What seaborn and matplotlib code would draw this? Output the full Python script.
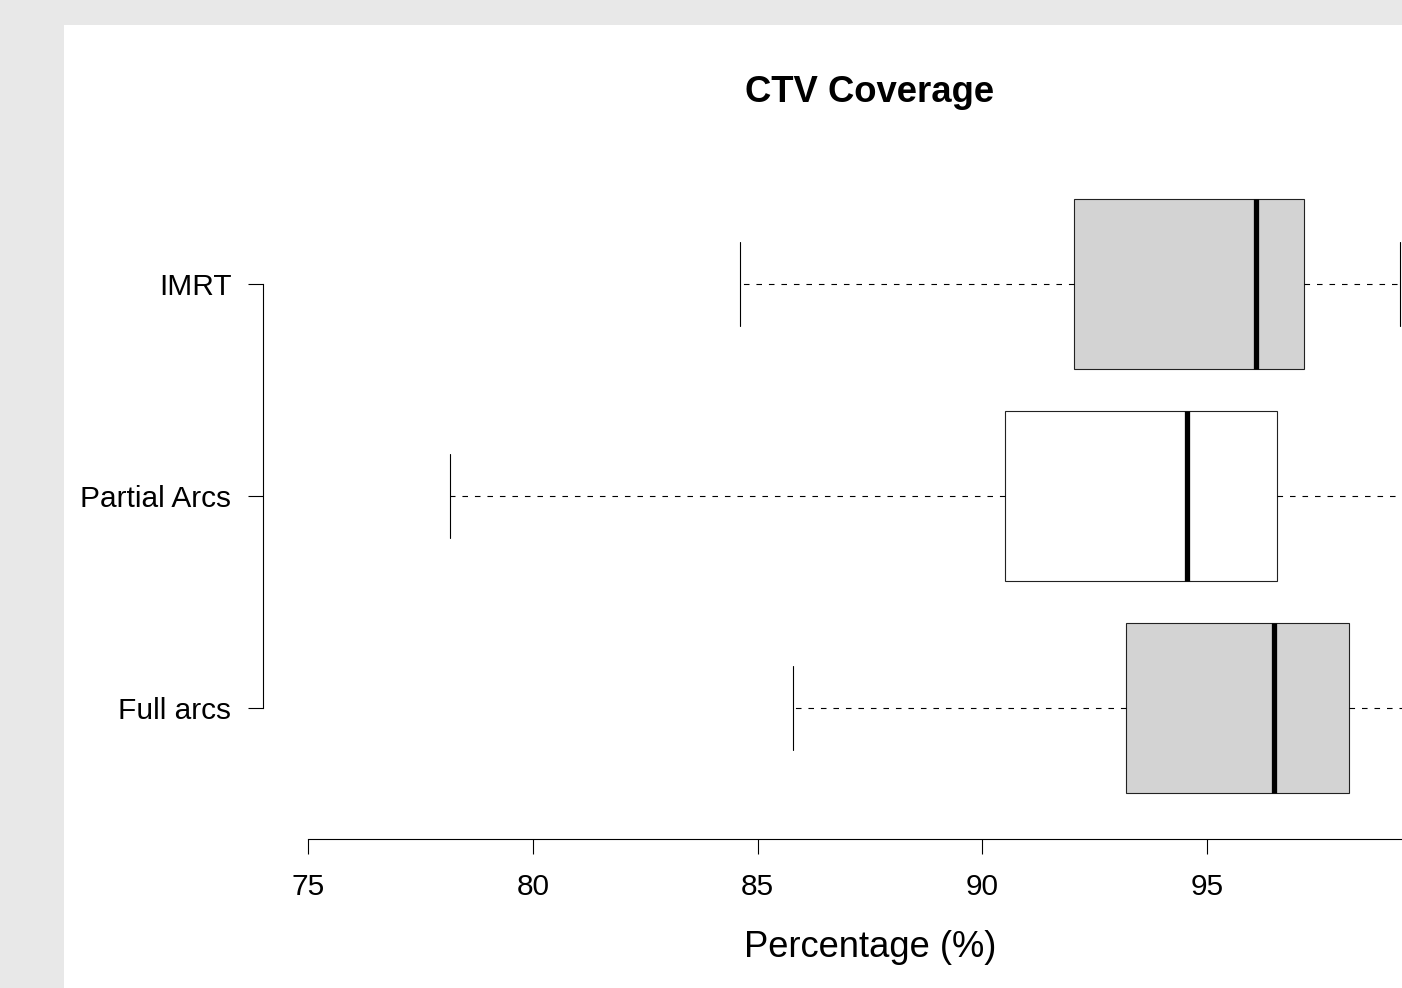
import numpy as np
import pandas as pd
import matplotlib
matplotlib.use("Agg")
import matplotlib.pyplot as plt
from matplotlib.patches import Rectangle
import seaborn as sns

# ---- data (five-number summaries) ----
groups = ["IMRT", "Partial Arcs", "Full arcs"]
mins = [84.6, 78.15, 85.8]
q1s = [92.05, 90.5, 93.2]
medians = [96.1, 94.55, 96.5]
q3s = [97.15, 96.55, 98.15]
maxs = [99.3, 99.8, 99.7]
fills = ["#d3d3d3", "#ffffff", "#d3d3d3"]
xticks = [75, 80, 85, 90, 95]
title = "CTV Coverage"
xlabel = "Percentage (%)"

rows = []
for g, a, b, c, d, e in zip(groups, mins, q1s, medians, q3s, maxs):
    for v in (a, b, c, d, e):
        rows.append({"group": g, "value": v})
df = pd.DataFrame(rows)

sns.set_theme(style="white")
plt.rcParams["font.family"] = ["Liberation Sans", "DejaVu Sans"]
plt.rcParams["lines.scale_dashes"] = False
plt.rcParams["text.color"] = "black"
plt.rcParams["xtick.color"] = "black"
plt.rcParams["ytick.color"] = "black"
plt.rcParams["xtick.labelcolor"] = "black"
plt.rcParams["ytick.labelcolor"] = "black"

W, H = 1402, 988
fig = plt.figure(figsize=(W / 100, H / 100), dpi=100)
fig.patch.set_facecolor("#e8e8e8")
fig.patches.append(Rectangle((64 / W, 0), 1 - 64 / W, (H - 25) / H,
                             transform=fig.transFigure, facecolor="white",
                             edgecolor="none", zorder=-5))

left = 263 / W
bottom = (H - 839) / H
top = (H - 178) / H
ax = fig.add_axes([left, bottom, 1 - left, top - bottom])
ax.set_facecolor("none")
ax.set_zorder(2)

lw = 0.8
sns.boxplot(data=df, x="value", y="group", hue="group", order=groups,
            hue_order=groups, palette=dict(zip(groups, fills)), legend=False,
            orient="h", whis=(0, 100), width=0.8, saturation=1, ax=ax,
            linecolor="black", linewidth=lw, dodge=False,
            whiskerprops={"linestyle": (0, (4.0, 5.0)), "linewidth": lw, "color": "black"},
            capprops={"linewidth": lw, "color": "black"},
            medianprops={"linewidth": 3.8, "color": "black"},
            boxprops={"linewidth": lw, "edgecolor": "#222222"})

ax.set_xlim(75 - 45 / 44.95, 75 + 1094 / 44.95)
ax.set_ylim(2 + 131 / 212, -0.5)
ax.set_xticks(xticks)
ax.set_xticklabels([str(t) for t in xticks])
ax.set_xlabel("")
ax.set_ylabel("")

for s in ["top", "right"]:
    ax.spines[s].set_visible(False)
ax.spines["left"].set_bounds(0, 2)
ax.spines["bottom"].set_bounds(75, 100)
for s in ["left", "bottom"]:
    ax.spines[s].set_linewidth(lw)
    ax.spines[s].set_color("black")

ax.tick_params(axis="x", direction="out", length=10.8, width=lw, color="black",
               labelsize=21.5, pad=14, bottom=True, labelcolor="black")
ax.tick_params(axis="y", direction="out", length=10.8, width=lw, color="black",
               labelsize=21.5, pad=12, left=True, labelcolor="black")

fig.text(870 / W, (H - 102) / H, title, ha="center", va="baseline",
         fontsize=26.3, fontweight="bold", color="black")
fig.text(870 / W, (H - 957) / H, xlabel, ha="center", va="baseline",
         fontsize=26.2, color="black")

fig.savefig("out.png", dpi=100)
